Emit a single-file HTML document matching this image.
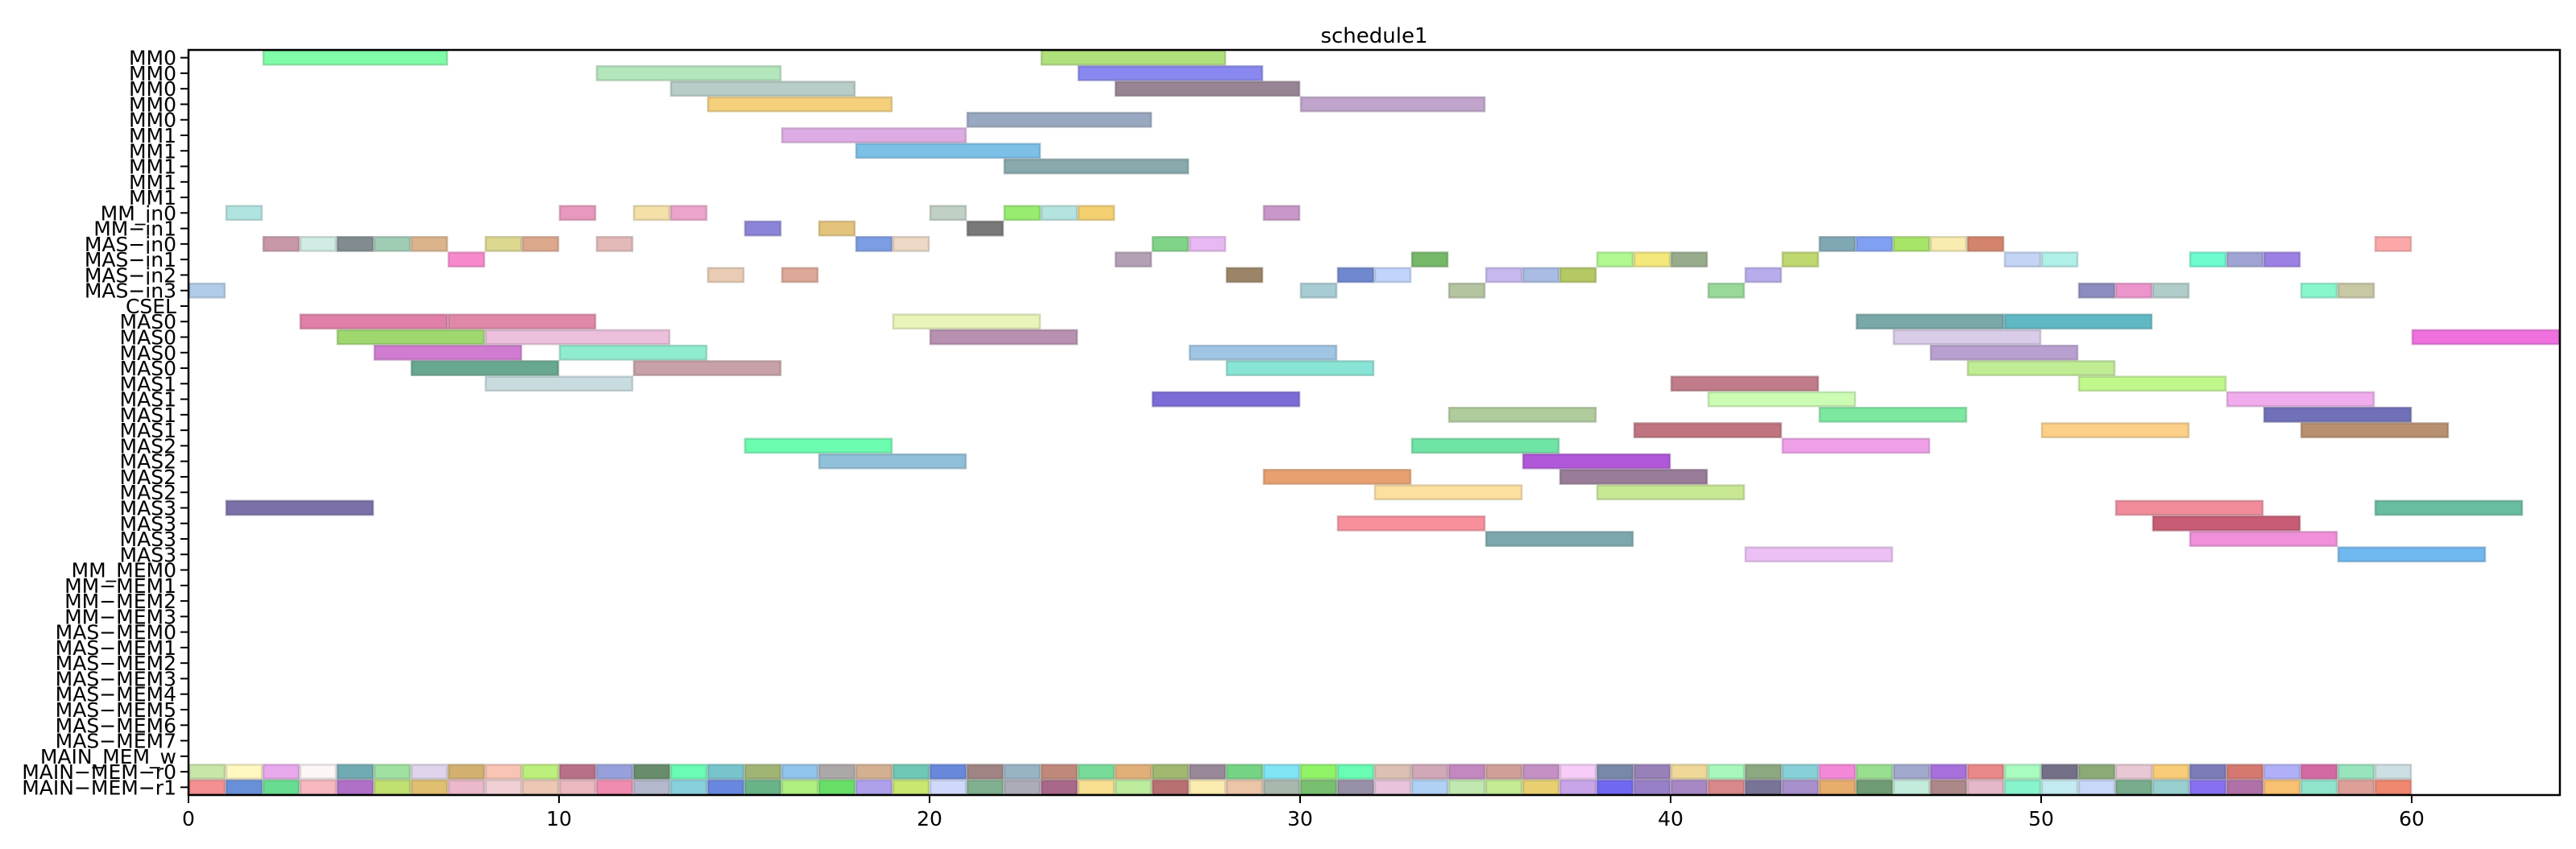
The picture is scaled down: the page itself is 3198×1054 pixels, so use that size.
<!DOCTYPE html>
<html><head><meta charset="utf-8"><style>
html,body{margin:0;padding:0;background:#fff;}
svg{display:block;font-family:"DejaVu Sans","Liberation Sans",sans-serif;}
</style></head><body>
<svg id="chart" width="3198" height="1054" viewBox="0 0 3198 1054" xmlns="http://www.w3.org/2000/svg">
<text x="1706" y="53" font-size="26" text-anchor="middle">schedule1</text>
<g id="bars"></g>
<g id="yaxis"></g>
<g id="xaxis"></g>
<rect x="234" y="62" width="2944" height="925" fill="none" stroke="#000" stroke-width="2.5"/>
</svg>
<script>
const rowLabels = ["MM0","MM0","MM0","MM0","MM0","MM1","MM1","MM1","MM1","MM1","MM_in0","MM\u2212in1","MAS\u2212in0","MAS\u2212in1","MAS\u2212in2","MAS\u2212in3","CSEL","MAS0","MAS0","MAS0","MAS0","MAS1","MAS1","MAS1","MAS1","MAS2","MAS2","MAS2","MAS2","MAS3","MAS3","MAS3","MAS3","MM_MEM0","MM\u2212MEM1","MM\u2212MEM2","MM\u2212MEM3","MAS\u2212MEM0","MAS\u2212MEM1","MAS\u2212MEM2","MAS\u2212MEM3","MAS\u2212MEM4","MAS\u2212MEM5","MAS\u2212MEM6","MAS\u2212MEM7","MAIN_MEM_w","MAIN\u2212MEM\u2212r0","MAIN\u2212MEM\u2212r1"];
const xTicks = [0,10,20,30,40,50,60];
const xMax = 64;
// task spans per row: [start, end]
const rowTasks = [
 [[2,7],[23,28]],
 [[11,16],[24,29]],
 [[13,18],[25,30]],
 [[14,19],[30,35]],
 [[21,26]],
 [[16,21]],
 [[18,23]],
 [[22,27]],
 [],[],
 [[1,2],[10,11],[12,13],[13,14],[20,21],[22,23],[23,24],[24,25],[29,30]],
 [[15,16],[17,18],[21,22]],
 [[2,3],[3,4],[4,5],[5,6],[6,7],[8,9],[9,10],[11,12],[18,19],[19,20],[26,27],[27,28],[44,45],[45,46],[46,47],[47,48],[48,49],[59,60]],
 [[7,8],[25,26],[33,34],[38,39],[39,40],[40,41],[43,44],[49,50],[50,51],[54,55],[55,56],[56,57]],
 [[14,15],[16,17],[28,29],[31,32],[32,33],[35,36],[36,37],[37,38],[42,43]],
 [[0,1],[30,31],[34,35],[41,42],[51,52],[52,53],[53,54],[57,58],[58,59]],
 [],
 [[3,7],[7,11],[19,23],[45,49],[49,53]],
 [[4,8],[8,13],[20,24],[46,50],[60,64]],
 [[5,9],[10,14],[27,31],[47,51]],
 [[6,10],[12,16],[28,32],[48,52]],
 [[8,12],[40,44],[51,55]],
 [[26,30],[41,45],[55,59]],
 [[34,38],[44,48],[56,60]],
 [[39,43],[50,54],[57,61]],
 [[15,19],[33,37],[43,47]],
 [[17,21],[36,40]],
 [[29,33],[37,41]],
 [[32,36],[38,42]],
 [[1,5],[52,56],[59,63]],
 [[31,35],[53,57]],
 [[35,39],[54,58]],
 [[42,46],[58,62]],
 [],[],[],[],[],[],[],[],[],[],[],[],[]
];
const rowColors = [
 ["#80fca8","#b0e07c"],["#b4e6bc","#8888f0"],["#b8ccc8","#988494"],["#f4d07c","#c0a4cc"],["#98a8c0"],["#deace4"],["#7cc0e8"],["#88aaac"],[],[],
 ["#b0e4e0","#e898bc","#f4e0a8","#eca4cc","#c0d0c4","#98ec70","#b4e4e0","#f4d070","#c898c8"],
 ["#8c84d8","#e4c47c","#787878"],
 ["#c898a8","#d0ece4","#808c90","#a0ccb4","#dcb48c","#dcd890","#dca88c","#e4bab8","#7c9ce4","#ecd8c4","#80d488","#e8b8f4","#80a8b4","#80a0f4","#a8e468","#f8ecb0","#d4846c","#fca8a8"],
 ["#f888cc","#b4a0b4","#74b868","#b0f890","#f4e87c","#98ac8c","#c0d870","#c4d4f4","#b0f0e8","#6cfcd0","#a0a4d4","#9c80e4"],
 ["#e8ccb4","#dca898","#9c8468","#7088d0","#c0d4fc","#c8b8f0","#a8bce4","#b4c864","#b8acec"],
 ["#b0cce8","#a8ccd4","#b4c4a0","#98d898","#8c8cc0","#ec94cc","#b0ccc8","#88f8cc","#c8c8a4"],
 [],
 ["#e080a8","#e088a8","#e8f4b8","#78a8a8","#60b8c4"],
 ["#a0d870","#ecc0dc","#b890b0","#d8cce8","#f070e0"],
 ["#d07cd0","#90ecd0","#a0c4e4","#b8a0d0"],
 ["#68a890","#c8a0a8","#88e4d4","#c0ec94"],
 ["#c8dce0","#c07c88","#c0f88c"],
 ["#7c6cd8","#ccfcb4","#f0acec"],
 ["#b0cc9c","#7ce8a0","#7070b8"],
 ["#c07480","#fcd088","#b89070"],
 ["#6cfcb0","#70e4a4","#f0a0e8"],
 ["#90c0d8","#b058d8"],
 ["#e8a070","#987c98"],
 ["#fce0a0","#c8e894"],
 ["#7c70a8","#f08c9c","#68bca0"],
 ["#f8909c","#c85c74"],
 ["#7ca8ac","#f090d8"],
 ["#ecc0f4","#70b8f0"]
];
// main memory read lanes: one unit slot per time step
const r0Colors = ["#c8e6a8","#fff8c0","#e8a8ec","#fcf6f6","#70aab2","#a0e0a0","#e0d4ec","#d2b070","#f8c4b4","#bcf07c","#b87088","#98a0dc","#688c6c","#68fcb4","#78c4cc","#a0b474","#90c4ec","#aca8a8","#d2b090","#70c8b4","#6888dc","#a08484","#98b4c4","#c08878","#78dc98","#e0b078","#a0b870","#988898","#74d484","#80e4f4","#90f468","#68fcb4","#dcc0b4","#d0a8b8","#c488c0","#d0a098","#c490c4","#f8ccf8","#7888a8","#9880b8","#f0d898","#a8f8bc","#8ca880","#88d0d8","#f488d8","#98e090","#a0a8cc","#a870dc","#e88888","#a8fcc0","#747088","#8caa78","#e8c8d4","#f8cc78","#7c7cb8","#d47870","#b0b0f8","#d46aa4","#98e4bc","#cce0e4"];
const r1Colors = ["#f49090","#6890d8","#68dc90","#f8b8c0","#b070c8","#c0e070","#e0c070","#ecb8cc","#f0d0d4","#ecc8b4","#ecb8c0","#f08cb0","#b4b8cc","#88d0dc","#6888e0","#68b488","#b0f080","#68e068","#b0a0ec","#c8e870","#d0d8fc","#80b090","#acacb8","#a86888","#f8e090","#bcec9c","#b87070","#fcecb0","#ecc4a8","#a8b8ac","#78c070","#9890a8","#e8c4dc","#b0d0f4","#c0e8b0","#c4ec94","#e8d070","#c8a4e8","#7068f0","#9880c8","#a888c4","#d88888","#787498","#a890cc","#e8ac6c","#709c74","#c4ecdc","#ac8888","#e4b8c8","#88f4cc","#c4ecf0","#c8d8f8","#78ac8c","#98d0d0","#8870f0","#b070a8","#f8c070","#90e4cc","#dca098","#f08870"];
const r0Starts = r0Colors.map((c,i)=>i);
const r1Starts = r1Colors.map((c,i)=>i);

const NS = "http://www.w3.org/2000/svg";
const L=234, R=3178, T=62, B=987;
const nRows = rowLabels.length;
const rowH = (B-T)/nRows;
function xs(v){return L + (v/xMax)*(R-L);}
function ys(i){return T + i*rowH;}
function darker(hex){
  const n=parseInt(hex.slice(1),16);
  const r=Math.round(((n>>16)&255)*0.8), g=Math.round(((n>>8)&255)*0.8), b=Math.round((n&255)*0.8);
  return "rgb("+r+","+g+","+b+")";
}
const barsG=document.getElementById('bars');
function addBar(row,s,e,col){
  const r=document.createElementNS(NS,'rect');
  
  
  r.setAttribute('x',xs(s)+1);
  r.setAttribute('y',ys(row)+1);
  r.setAttribute('width',xs(e)-xs(s)-2);
  r.setAttribute('height',rowH-2);
  r.setAttribute('fill',col);
  r.setAttribute('stroke',darker(col));
  r.setAttribute('stroke-opacity','0.6');
  r.setAttribute('stroke-width','2.5');
  barsG.appendChild(r);
}
rowTasks.forEach((tasks,row)=>{
  tasks.forEach((t,j)=>{ addBar(row,t[0],t[1],(rowColors[row]&&rowColors[row][j])||"#aaaaaa"); });
});
r0Starts.forEach((s,i)=>addBar(46,s,s+1,r0Colors[i]));
r1Starts.forEach((s,i)=>addBar(47,s,s+1,r1Colors[i]));

const yG=document.getElementById('yaxis');
rowLabels.forEach((lab,i)=>{
  const cy=ys(i)+rowH/2;
  const tk=document.createElementNS(NS,'line');
  
  
  tk.setAttribute('x1',L-10);tk.setAttribute('x2',L);tk.setAttribute('y1',cy);tk.setAttribute('y2',cy);
  tk.setAttribute('stroke','#000');tk.setAttribute('stroke-width','2');
  yG.appendChild(tk);
  const t=document.createElementNS(NS,'text');
  
  
  t.setAttribute('x',L-15);t.setAttribute('y',cy+9);
  t.setAttribute('font-size','25');t.setAttribute('text-anchor','end');
  t.textContent=lab;
  yG.appendChild(t);
});
const xG=document.getElementById('xaxis');
xTicks.forEach(v=>{
  const x=xs(v);
  const tk=document.createElementNS(NS,'line');
  
  
  tk.setAttribute('x1',x);tk.setAttribute('x2',x);tk.setAttribute('y1',B);tk.setAttribute('y2',B+10);
  tk.setAttribute('stroke','#000');tk.setAttribute('stroke-width','2');
  xG.appendChild(tk);
  const t=document.createElementNS(NS,'text');
  
  
  t.setAttribute('x',x);t.setAttribute('y',B+38);
  t.setAttribute('font-size','25');t.setAttribute('text-anchor','middle');
  t.textContent=String(v);
  xG.appendChild(t);
});
</script>
</body></html>
